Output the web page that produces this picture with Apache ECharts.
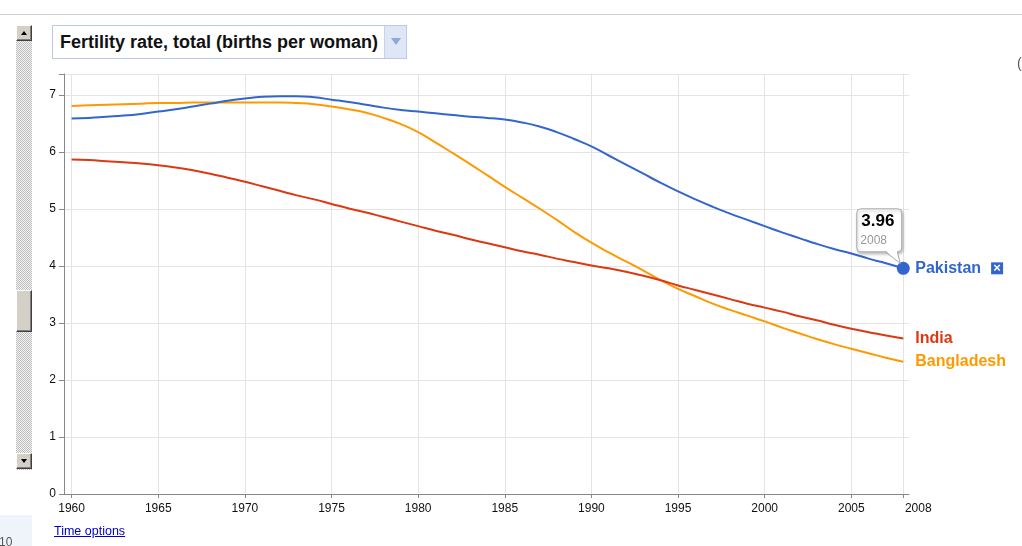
<!DOCTYPE html>
<html><head><meta charset="utf-8">
<script src="https://cdn.jsdelivr.net/npm/echarts@6/dist/echarts.min.js"></script>
<style>
html,body{margin:0;padding:0;background:#fff;width:1022px;height:546px;overflow:hidden;font-family:Arial,"Liberation Sans",sans-serif;}
#chart{position:absolute;left:0;top:0;width:1022px;height:546px;}
.abs{position:absolute;z-index:5;}
#topline{left:0;top:14px;width:1022px;height:1px;background:#d0d0d0;}
#track{left:16px;top:25px;width:16px;height:445px;background:repeating-conic-gradient(#bdbdbd 0 25%,#f4f4f4 0 50%) 0 0/2px 2px;}
.btn{position:absolute;left:0;width:14px;background:#d4d0c8;border-top:1px solid #fff;border-left:1px solid #fff;border-right:1px solid #404040;border-bottom:1px solid #404040;box-shadow:inset -1px -1px 0 #808080;}
.tri{position:absolute;left:4px;width:0;height:0;border-left:3px solid transparent;border-right:3px solid transparent;}
#titlebox{left:52px;top:25px;width:353px;height:32px;border:1px solid #b9c9e6;background:#fff;}
#titlebox span{position:absolute;left:7px;top:6px;font-size:18px;font-weight:bold;color:#111;white-space:nowrap;}
#dd{position:absolute;right:0;top:0;width:21px;height:32px;background:#dfe7f6;border-left:1px solid #c5d3ec;}
#dd i{position:absolute;left:6px;top:12px;width:0;height:0;border-left:5px solid transparent;border-right:5px solid transparent;border-top:7px solid #8fa8d9;}
#timeopt{left:54px;top:524px;font-size:12.5px;color:#0000cc;text-decoration:underline;}
#blbox{left:0;top:515px;width:32px;height:31px;background:#eef4f9;}
#blbox span{position:absolute;left:-1px;top:20px;font-size:12px;color:#555;}
#paren{left:1017px;top:55px;font-size:14px;color:#555;}
</style></head><body>
<div id="chart"></div>
<div id="topline" class="abs"></div>
<div id="track" class="abs">
  <div class="btn" style="top:0;height:14px;"><div class="tri" style="top:5px;border-bottom:4px solid #000;"></div></div>
  <div class="btn" style="top:265px;height:40px;"></div>
  <div class="btn" style="top:428px;height:14px;"><div class="tri" style="top:5px;border-top:4px solid #000;"></div></div>
</div>
<div id="titlebox" class="abs"><span>Fertility rate, total (births per woman)</span><div id="dd"><i></i></div></div>
<div id="timeopt" class="abs">Time options</div>
<div id="blbox" class="abs"><span>10</span></div>
<div id="paren" class="abs">(</div>
<script>
const years = [1960,1961,1962,1963,1964,1965,1966,1967,1968,1969,1970,1971,1972,1973,1974,1975,1976,1977,1978,1979,1980,1981,1982,1983,1984,1985,1986,1987,1988,1989,1990,1991,1992,1993,1994,1995,1996,1997,1998,1999,2000,2001,2002,2003,2004,2005,2006,2007,2008];
const pakistan = [6.59,6.60,6.62,6.64,6.67,6.71,6.75,6.80,6.85,6.90,6.94,6.97,6.98,6.98,6.96,6.92,6.88,6.83,6.78,6.74,6.71,6.68,6.65,6.62,6.60,6.57,6.52,6.45,6.35,6.23,6.10,5.94,5.78,5.62,5.46,5.31,5.17,5.04,4.92,4.81,4.70,4.59,4.49,4.39,4.30,4.22,4.13,4.05,3.96];
const india = [5.87,5.86,5.84,5.82,5.80,5.77,5.73,5.68,5.62,5.55,5.48,5.40,5.32,5.24,5.17,5.09,5.01,4.94,4.86,4.78,4.70,4.62,4.55,4.47,4.40,4.33,4.26,4.20,4.13,4.07,4.01,3.96,3.90,3.83,3.75,3.66,3.58,3.50,3.42,3.34,3.27,3.20,3.12,3.05,2.97,2.90,2.84,2.78,2.73];
const bangladesh = [6.81,6.82,6.83,6.84,6.85,6.86,6.86,6.87,6.87,6.87,6.87,6.87,6.87,6.86,6.84,6.80,6.75,6.69,6.60,6.49,6.35,6.17,5.98,5.79,5.59,5.39,5.20,5.01,4.81,4.60,4.41,4.24,4.08,3.92,3.75,3.60,3.47,3.34,3.23,3.13,3.03,2.92,2.82,2.72,2.63,2.55,2.47,2.39,2.32];
const xTicks = [1960,1965,1970,1975,1980,1985,1990,1995,2000,2005,2008];
const seriesNames = ['Pakistan','India','Bangladesh'];
const colors = ['#3366cc','#dc3912','#ff9900'];

const FONT = 'Arial, "Liberation Sans", sans-serif';
const chart = echarts.init(document.getElementById('chart'));
const pair = arr => years.map((y,i)=>[y,arr[i]]);
const last = years.length-1;

function lineSeries(name, arr, color, icon){
  return {
    type:'line', name, data:pair(arr), smooth:0.5, showSymbol:false, symbol:'none',
    lineStyle:{color, width:2}, itemStyle:{color}, silent:true, z:3,
    endLabel:{show:true, distance:12, fontFamily:FONT,
      formatter: p => '{n|'+p.seriesName+'}' + (icon ? '{s|}{x|×}' : ''),
      rich:{
        n:{color, fontSize:16, fontWeight:'bold', fontFamily:FONT},
        s:{width:10},
        x:{color:'#fff', backgroundColor:color, fontSize:13, fontWeight:'bold', width:12, height:12, lineHeight:12, align:'center', fontFamily:FONT}
      }}
  };
}

chart.setOption({
  animation:false,
  grid:{left:64, right:113, top:74, bottom:52, containLabel:false},
  xAxis:{type:'value', min:1959.56, max:2008.33,
    axisLine:{show:true, lineStyle:{color:'#888', width:1}},
    axisTick:{show:true, length:4, customValues:xTicks, lineStyle:{color:'#888'}},
    axisLabel:{customValues:xTicks, color:'#111', fontSize:12, fontFamily:FONT, margin:9,
      formatter: v => v===2008 ? '{r|2008}' : String(v),
      rich:{r:{padding:[0,0,0,30], fontSize:12, color:'#111', fontFamily:FONT}}},
    splitLine:{show:true, lineStyle:{color:'#e4e4e4', width:1}}
  },
  yAxis:{type:'value', min:0, max:7.37, interval:1,
    axisLine:{show:true, lineStyle:{color:'#888', width:1}},
    axisTick:{show:true, length:5, lineStyle:{color:'#888'}},
    axisLabel:{color:'#111', fontSize:12, fontFamily:FONT, margin:8,
      formatter: v => Number.isInteger(v) ? String(v) : ''},
    splitLine:{show:true, lineStyle:{color:'#e4e4e4', width:1}}
  },
  series:[
    lineSeries(seriesNames[2], bangladesh, colors[2], false),
    lineSeries(seriesNames[1], india, colors[1], false),
    lineSeries(seriesNames[0], pakistan, colors[0], true),
    {type:'scatter', data:[[years[last], pakistan[last]]], symbolSize:13, itemStyle:{color:colors[0], opacity:1}, z:5, silent:true}
  ]
});

const p = chart.convertToPixel({gridIndex:0},[years[last], pakistan[last]]);
const px = p[0], py = p[1];
const L = px-47, R = px-2, T = py-60, B = py-17;
chart.setOption({graphic:[
  {type:'rect', shape:{x:L+0.5,y:T+0.5,width:R-L,height:B-T,r:4}, z:10,
   style:{fill:'#fff', stroke:'#a8a8a8', lineWidth:1, shadowBlur:3, shadowOffsetX:1, shadowOffsetY:2, shadowColor:'rgba(0,0,0,0.25)'}},
  {type:'polygon', shape:{points:[[px-17.5,B-0.5],[px-3,py-5],[px-6.5,B-0.5]]}, z:11, style:{fill:'#fff'}},
  {type:'polyline', shape:{points:[[px-18,B+0.5],[px-3,py-5],[px-6,B+0.5]]}, z:11, style:{stroke:'#a8a8a8', lineWidth:1, fill:null}},
  {type:'text', x:L+5, y:T+13, z:12, style:{text:pakistan[last].toFixed(2), font:'bold 17px '+FONT, fill:'#000', verticalAlign:'middle'}},
  {type:'text', x:L+4, y:T+32, z:12, style:{text:String(years[last]), font:'12px '+FONT, fill:'#999', verticalAlign:'middle'}}
]});
</script>
</body></html>
